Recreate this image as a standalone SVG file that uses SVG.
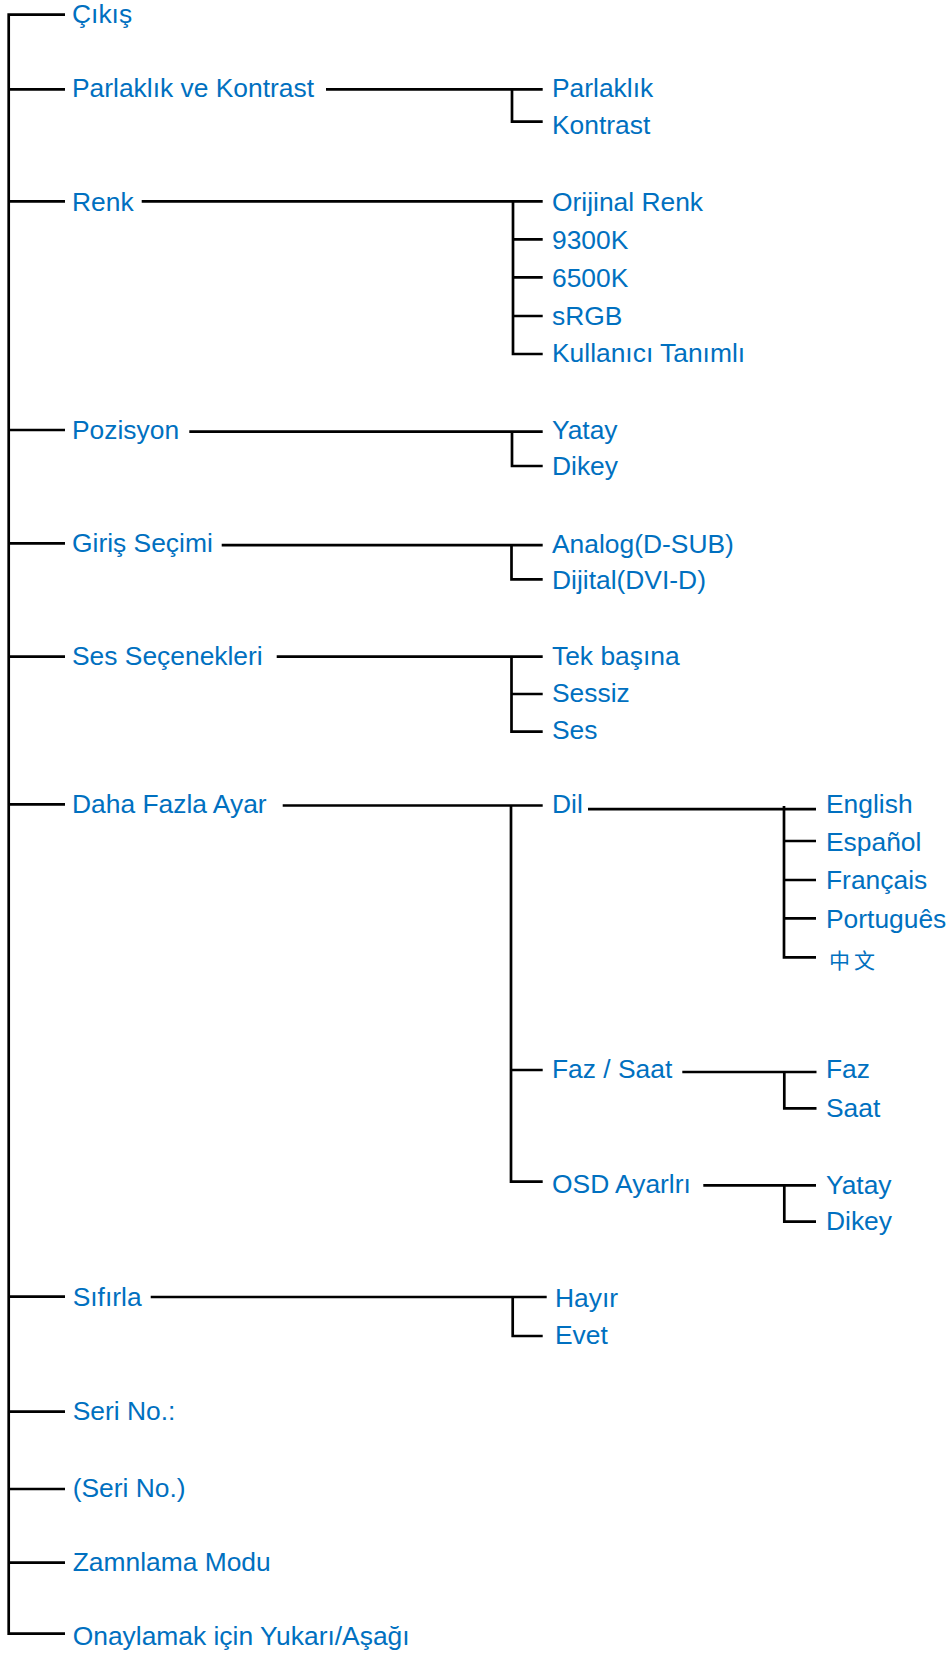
<svg xmlns="http://www.w3.org/2000/svg" width="952" height="1659" viewBox="0 0 952 1659">
<style>
  .c { fill: none; stroke: #000; stroke-width: 2.7; stroke-linejoin: miter; stroke-linecap: butt; }
  .t { font-family: "Liberation Sans", Arial, sans-serif; font-size: 26.4px; fill: #0070C0; }
  .cjk { font-family: "Noto Sans CJK SC", "Noto Sans CJK TC", sans-serif; font-size: 21px; font-weight: 400; fill: #0070C0; letter-spacing: 4px; }
</style>
<rect width="952" height="1659" fill="#fff"/>
<g id="connectors">
  <path class="c" d="M65,14.7 H8.7 V1633.7 H65 M8.7,89.3 H65 M8.7,201.3 H65 M8.7,430 H65 M8.7,543.3 H65 M8.7,656.7 H65 M8.7,804.3 H65 M8.7,1296.7 H65 M8.7,1411.7 H65 M8.7,1489 H65 M8.7,1562.7 H65"/>
  <path class="c" d="M326,89.3 H542.7 M512,89.3 V121.7 H542.7"/>
  <path class="c" d="M141.7,201.3 H542.7 M513,201.3 V354 H542.7 M513,239.3 H542.7 M513,277.3 H542.7 M513,316 H542.7"/>
  <path class="c" d="M189.3,431.7 H542.7 M512,431.7 V466 H542.7"/>
  <path class="c" d="M221.7,545.2 H542.7 M511.5,545.2 V579.3 H542.7"/>
  <path class="c" d="M276.7,656.7 H542.7 M511.5,656.7 V731.7 H542.7 M511.5,694 H542.7"/>
  <path class="c" d="M282.7,805.5 H542.7 M511,805.5 V1181.7 H542.7 M511,1070 H542.7"/>
  <path class="c" d="M588,809.2 H816 M784,806 V957.3 H816 M784,841 H816 M784,880 H816 M784,918.3 H816"/>
  <path class="c" d="M682.3,1072 H816.5 M784.3,1072 V1108.3 H816.5"/>
  <path class="c" d="M703.3,1185.3 H816 M784.3,1185.3 V1221.7 H816"/>
  <path class="c" d="M150.7,1297 H546.7 M512.7,1297 V1336 H542.7"/>
</g>
<g id="n-cikis"><text class="t" x="72" y="22.7">Çıkış</text></g>
<g id="n-parlaklik-kontrast"><text class="t" x="72" y="97.3">Parlaklık ve Kontrast</text></g>
<g id="n-parlaklik"><text class="t" x="552" y="96.8">Parlaklık</text></g>
<g id="n-kontrast"><text class="t" x="552" y="134">Kontrast</text></g>
<g id="n-renk"><text class="t" x="72" y="210.5">Renk</text></g>
<g id="n-orijinal"><text class="t" x="552" y="210.5">Orijinal Renk</text></g>
<g id="n-9300k"><text class="t" x="552" y="248.5">9300K</text></g>
<g id="n-6500k"><text class="t" x="552" y="286.7">6500K</text></g>
<g id="n-srgb"><text class="t" x="552" y="324.5">sRGB</text></g>
<g id="n-kullanici"><text class="t" x="552" y="361.7">Kullanıcı Tanımlı</text></g>
<g id="n-pozisyon"><text class="t" x="72" y="439.3">Pozisyon</text></g>
<g id="n-yatay"><text class="t" x="552" y="439.3">Yatay</text></g>
<g id="n-dikey"><text class="t" x="552" y="475">Dikey</text></g>
<g id="n-giris"><text class="t" x="72" y="552">Giriş Seçimi</text></g>
<g id="n-analog"><text class="t" x="552" y="552.7">Analog(D-SUB)</text></g>
<g id="n-dijital"><text class="t" x="552" y="588.5">Dijital(DVI-D)</text></g>
<g id="n-ses-secenekleri"><text class="t" x="72" y="664.5">Ses Seçenekleri</text></g>
<g id="n-tek"><text class="t" x="552" y="664.5">Tek başına</text></g>
<g id="n-sessiz"><text class="t" x="552" y="701.7">Sessiz</text></g>
<g id="n-ses"><text class="t" x="552" y="739.3">Ses</text></g>
<g id="n-daha"><text class="t" x="72" y="813.3">Daha Fazla Ayar</text></g>
<g id="n-dil"><text class="t" x="552" y="813.3">Dil</text></g>
<g id="n-english"><text class="t" x="826" y="813.3">English</text></g>
<g id="n-espanol"><text class="t" x="826" y="851">Español</text></g>
<g id="n-francais"><text class="t" x="826" y="889">Français</text></g>
<g id="n-portugues"><text class="t" x="826" y="927.5">Português</text></g>
<g id="n-chinese"><text class="cjk" x="829" y="968">中文</text></g>
<g id="n-faz-saat"><text class="t" x="552" y="1078.3">Faz / Saat</text></g>
<g id="n-faz"><text class="t" x="826" y="1078.3">Faz</text></g>
<g id="n-saat"><text class="t" x="826" y="1117">Saat</text></g>
<g id="n-osd"><text class="t" x="552" y="1193">OSD Ayarlrı</text></g>
<g id="n-yatay2"><text class="t" x="826" y="1194">Yatay</text></g>
<g id="n-dikey2"><text class="t" x="826" y="1230">Dikey</text></g>
<g id="n-sifirla"><text class="t" x="72.7" y="1306">Sıfırla</text></g>
<g id="n-hayir"><text class="t" x="555" y="1306.5">Hayır</text></g>
<g id="n-evet"><text class="t" x="555" y="1343.5">Evet</text></g>
<g id="n-seri"><text class="t" x="72.7" y="1420">Seri No.:</text></g>
<g id="n-seri2"><text class="t" x="72.7" y="1497">(Seri No.)</text></g>
<g id="n-zamnlama"><text class="t" x="72.7" y="1570.7">Zamnlama Modu</text></g>
<g id="n-onay"><text class="t" x="72.7" y="1644.5">Onaylamak için Yukarı/Aşağı</text></g>
</svg>
